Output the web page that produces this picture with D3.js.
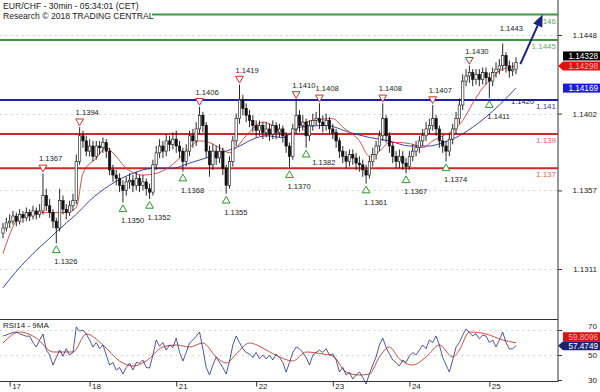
<!DOCTYPE html>
<html>
<head>
<meta charset="utf-8">
<script src="https://cdn.jsdelivr.net/npm/d3@7"></script>
<style>
  html, body { margin: 0; padding: 0; background: #fff; }
  svg { display: block; font-family: "Liberation Sans", Arial, sans-serif; }
  .lbl { font-size: 7.6px; fill: #222; }
  .axis text { font-size: 8px; fill: #222; }
  .axis line { stroke: #333; }
  .axis path { display: none; }
</style>
</head>
<body>
<svg id="chart" width="600" height="392"></svg>
<script>
// EUR/CHF 30min — candles, two MAs, support/resistance levels, RSI14 panel

const OPEN0 = 1.1332;
const closes = [1.1335,1.1338,1.1339,1.1342,1.1339,1.1343,1.1341,1.1344,1.1342,1.1345,
  1.1343,1.1345,1.1354,1.1348,1.1344,1.1339,1.1335,1.1351,1.1346,1.1344,
  1.1348,1.1351,1.1374,1.1389,1.1386,1.1380,1.1383,1.1377,1.1383,1.1382,
  1.1385,1.1380,1.1369,1.1366,1.1364,1.1360,1.1357,1.1362,1.1363,1.1360,
  1.1364,1.1360,1.1362,1.1358,1.1356,1.1372,1.1379,1.1383,1.1380,1.1386,
  1.1384,1.1387,1.1383,1.1380,1.1374,1.1380,1.1389,1.1386,1.1393,1.1401,
  1.1395,1.1380,1.1372,1.1380,1.1376,1.1380,1.1370,1.1360,1.1374,1.1386,
  1.1399,1.1410,1.1405,1.1401,1.1398,1.1395,1.1392,1.1395,1.1391,1.1393,
  1.1390,1.1395,1.1391,1.1393,1.1389,1.1383,1.1377,1.1393,1.1401,1.1395,
  1.1397,1.1389,1.1395,1.1398,1.1399,1.1397,1.1395,1.1398,1.1393,1.1391,
  1.1386,1.1380,1.1377,1.1374,1.1378,1.1376,1.1373,1.1372,1.1369,1.1366,
  1.1374,1.1378,1.1383,1.1389,1.1399,1.1389,1.1383,1.1377,1.1374,1.1377,
  1.1373,1.1371,1.1377,1.1380,1.1382,1.1386,1.1389,1.1393,1.1395,1.1399,
  1.1393,1.1386,1.1383,1.1380,1.1387,1.1393,1.1399,1.1407,1.1421,1.1424,
  1.1426,1.1422,1.1425,1.1422,1.1426,1.1423,1.1421,1.1426,1.1428,1.1430,
  1.1436,1.1430,1.1427,1.1428,1.1432];
const highs = [1.1338,1.1341,1.1343,1.1345,1.1344,1.1346,1.1345,1.1347,1.1346,1.1348,
  1.1347,1.1349,1.1367,1.1358,1.1352,1.1346,1.1341,1.1358,1.1354,1.1349,
  1.1351,1.1355,1.1378,1.1394,1.1392,1.1389,1.1387,1.1386,1.1386,1.1386,
  1.1388,1.1387,1.1382,1.1372,1.1369,1.1367,1.1363,1.1365,1.1367,1.1366,
  1.1368,1.1366,1.1366,1.1364,1.1361,1.1375,1.1383,1.1387,1.1386,1.1390,
  1.1389,1.1391,1.1392,1.1386,1.1382,1.1384,1.1392,1.1393,1.1397,1.1406,
  1.1403,1.1397,1.1383,1.1384,1.1383,1.1384,1.1382,1.1372,1.1377,1.1389,
  1.1402,1.1419,1.1413,1.1408,1.1404,1.1401,1.1398,1.1398,1.1397,1.1397,
  1.1396,1.1398,1.1397,1.1396,1.1395,1.1391,1.1385,1.1396,1.1410,1.1404,
  1.1401,1.1399,1.1398,1.1402,1.1403,1.1408,1.1401,1.1402,1.1400,1.1396,
  1.1393,1.1388,1.1383,1.1380,1.1381,1.1381,1.1379,1.1377,1.1375,1.1372,
  1.1377,1.1382,1.1386,1.1392,1.1408,1.1401,1.1391,1.1385,1.1380,1.1381,
  1.1380,1.1376,1.1380,1.1384,1.1386,1.1389,1.1393,1.1397,1.1399,1.1407,
  1.1401,1.1395,1.1389,1.1386,1.1390,1.1396,1.1403,1.1411,1.1425,1.1428,
  1.1430,1.1428,1.1428,1.1428,1.1429,1.1429,1.1426,1.1429,1.1432,1.1434,
  1.1443,1.1438,1.1433,1.1432,1.1435];
const lows = [1.1329,1.1333,1.1335,1.1337,1.1336,1.1337,1.1338,1.1339,1.1339,1.1340,
  1.1340,1.1341,1.1343,1.1345,1.1341,1.1335,1.1326,1.1333,1.1343,1.1340,
  1.1342,1.1345,1.1349,1.1372,1.1382,1.1377,1.1377,1.1374,1.1375,1.1378,
  1.1379,1.1376,1.1366,1.1362,1.1360,1.1356,1.1350,1.1354,1.1358,1.1356,
  1.1357,1.1356,1.1357,1.1354,1.1352,1.1354,1.1369,1.1376,1.1376,1.1377,
  1.1380,1.1381,1.1379,1.1376,1.1368,1.1371,1.1377,1.1382,1.1383,1.1390,
  1.1391,1.1376,1.1365,1.1369,1.1372,1.1373,1.1366,1.1355,1.1358,1.1371,
  1.1383,1.1396,1.1401,1.1397,1.1394,1.1391,1.1388,1.1389,1.1387,1.1388,
  1.1386,1.1387,1.1387,1.1388,1.1385,1.1379,1.1370,1.1375,1.1390,1.1391,
  1.1392,1.1382,1.1386,1.1392,1.1395,1.1393,1.1391,1.1392,1.1390,1.1387,
  1.1382,1.1376,1.1373,1.1370,1.1371,1.1372,1.1369,1.1368,1.1365,1.1361,
  1.1364,1.1371,1.1375,1.1380,1.1386,1.1385,1.1379,1.1373,1.1370,1.1370,
  1.1369,1.1367,1.1369,1.1374,1.1377,1.1379,1.1383,1.1386,1.1390,1.1392,
  1.1389,1.1382,1.1379,1.1374,1.1377,1.1384,1.1390,1.1396,1.1404,1.1418,
  1.1420,1.1418,1.1419,1.1418,1.1419,1.1419,1.1411,1.1418,1.1423,1.1425,
  1.1427,1.1426,1.1423,1.1424,1.1425];

// moving averages on price (read at bar index)
const maFastIdx = [0,5,12,19,22,24,28,31,33,37,42,46,52,55,59,62,65,68,70,73,78,81,84,87,89,93,99,102,107,110,113,116,119,123,126,129,132,135,138,141,144,147,149,154];
const maFast = [1.1320,1.1341,1.1344,1.1344,1.1347,1.1367,1.1376,1.1382,1.1379,1.1370,1.1366,1.1367,1.1374,1.1380,1.1386,1.1385,1.1382,1.1379,1.1382,1.1389,1.1397,1.1395,1.1391,1.1390,1.1395,1.1398,1.1399,1.1394,1.1386,1.1377,1.1380,1.1385,1.1385,1.1384,1.1382,1.1386,1.1389,1.1392,1.1398,1.1408,1.1417,1.1423,1.1427,1.14298];
const maSlowIdx = [0,2,9,14,19,22,26,32,39,45,51,56,61,67,71,75,79,84,89,97,104,110,116,122,128,132,137,141,145,149,154];
const maSlow = [1.1300,1.1305,1.1320,1.1329,1.1338,1.1343,1.1351,1.1360,1.1367,1.1370,1.1370,1.1373,1.1376,1.1380,1.1383,1.1387,1.1389,1.1388,1.1394,1.1395,1.1391,1.1388,1.1386,1.1383,1.1383,1.1385,1.1389,1.1394,1.1400,1.1407,1.14169];

// horizontal levels
const levels      = [1.1460, 1.1445, 1.1410, 1.1390, 1.1370];
const levelText   = ["1.146", "1.1445", "1.141", "1.139", "1.137"];
const levelColor  = ["#3a9a3a", "#3a9a3a", "#2020a8", "#cc2a2a", "#cc2a2a"];
const levelLabelC = ["#5aaa5a", "#6aaa6a", "#3a3ab0", "#e06060", "#e06060"];

// swing highs / lows
const peakIdx = [12, 23, 59, 71, 88, 95, 114, 129, 140];
const peakVal = [1.1367, 1.1394, 1.1406, 1.1419, 1.1410, 1.1408, 1.1408, 1.1407, 1.1430];
const troughIdx = [16, 36, 44, 54, 67, 86, 91, 109, 121, 133, 146];
const troughVal = [1.1326, 1.1350, 1.1352, 1.1368, 1.1355, 1.1370, 1.1382, 1.1361, 1.1367, 1.1374, 1.1411];

// RSI14, one value per bar, and its 9MA
const rsi = [65.2,66,67,68,68.4,67,66,65,65.2,60,
  56.4,62,66.8,54,50,42,48,54,49,55,
  50,52,72.4,69,70,66.8,62,56.4,60,55,
  58,50,42,44,38,40,34.8,40,43.6,38,
  44,43.6,46,40,39.6,50,62,57,60,54,
  58,56,63.6,52,45.2,52,59.6,62,65,68.4,
  55,40,34,42,48.4,44,40,34.8,45,58,
  65.2,60,55,52,50.8,48,52,47,50,46.8,
  50,46,50.8,48,44,36.4,44,52,56.4,55,
  52,48,42,50,52,54,52,55,50,50.8,
  46,36.4,40,34,36,30.8,34,36.4,32,26.8,
  35,42,48.4,58,63.6,56,50.8,46,44,41.2,
  46,44,49.2,52,50,54,58,55,62,60,
  65.2,58,48,42,36.4,46,56.4,60,66,70.8,
  68,65.2,67,63,66,65.2,60,62,56.4,62,
  68.4,60,54.8,55,57.47];
const rsiMaIdx = [0,5,10,15,21,25,30,35,39,43,48,52,56,60,64,67,70,74,79,83,87,91,96,99,103,107,110,113,116,119,123,127,131,135,137,140,145,150,154];
const rsiMa = [59.6,68.4,63.6,52.4,52.4,66.8,58,45.2,41.2,45.2,56.4,58,56.4,59.6,48.4,43.6,50.8,59.6,54,48.4,45.2,52.4,50.8,49.2,36.4,34,34.8,48.4,56.4,46.8,42,48.4,58,48.4,54,68.4,66.8,62,59.81];

const dayIdx = [2, 26, 52, 76, 99, 122, 146];
const dayLabel = ["17", "18", "21", "22", "23", "24", "25"];
const priceTicks = [1.1311, 1.1357, 1.1402, 1.1448];
const rsiTicks = [30, 50, 70];

// last-value tags
const tags = [
  { v: 1.14328, text: "1.14328", fill: "#000", color: "#fff", pointer: false, dy: -5 },
  { v: 1.14298, text: "1.14298", fill: "#e01010", color: "#ffb0b0", pointer: true, dy: 0 },
  { v: 1.14169, text: "1.14169", fill: "#1a1ae0", color: "#fff", pointer: false, dy: 0 }
];
const rsiTags = [
  { v: 59.8096, text: "59.8096", fill: "#e01010", color: "#ffb0b0", pointer: false, dy: -6 },
  { v: 57.4749, text: "57.4749", fill: "#1c2470", color: "#fff", pointer: true, dy: 0 }
];

const svg = d3.select("#chart");
const RIGHT = 558;

const x = d3.scaleLinear().domain([0, 154]).range([3, 516]);
const y = d3.scaleLinear().domain([1.1311, 1.1448]).range([269, 35]);
const yR = d3.scaleLinear().domain([30, 70]).range([380, 330]);

// ── frame ──
svg.append("line").attr("x1", RIGHT).attr("x2", RIGHT).attr("y1", 0).attr("y2", 382)
  .attr("stroke", "#333").attr("stroke-width", 1);
svg.append("line").attr("x1", 0).attr("x2", RIGHT).attr("y1", 319.5).attr("y2", 319.5)
  .attr("stroke", "#333").attr("stroke-width", 1.2);
svg.append("line").attr("x1", 0).attr("x2", RIGHT).attr("y1", 381.5).attr("y2", 381.5)
  .attr("stroke", "#333").attr("stroke-width", 1);

// dotted grid
svg.append("g").selectAll("line").data(priceTicks).join("line")
  .attr("x1", 0).attr("x2", RIGHT)
  .attr("y1", d => Math.round(y(d)) + 0.5).attr("y2", d => Math.round(y(d)) + 0.5)
  .attr("stroke", "#c8c8c8").attr("stroke-dasharray", "1.5,4");
svg.append("g").selectAll("line").data([50, 70]).join("line")
  .attr("x1", 0).attr("x2", RIGHT)
  .attr("y1", d => Math.round(yR(d)) + 0.5).attr("y2", d => Math.round(yR(d)) + 0.5)
  .attr("stroke", "#c8c8c8").attr("stroke-dasharray", "1.5,4");

// title
svg.append("text").attr("x", 3).attr("y", 9).attr("font-size", 8.6).attr("fill", "#222")
  .text("EUR/CHF - 30min - 05:34:01 (CET)");
svg.append("text").attr("x", 3).attr("y", 19).attr("font-size", 8.6).attr("fill", "#222")
  .text("Research © 2018 TRADING CENTRAL");

// ── levels ──
levels.forEach((lv, i) => {
  const yy = y(lv);
  svg.append("line").attr("x1", i === 0 ? 152 : 0).attr("x2", RIGHT)
    .attr("y1", yy).attr("y2", yy)
    .attr("stroke", levelColor[i]).attr("stroke-width", 2);
  svg.append("text").attr("x", RIGHT - 2).attr("y", yy + 9)
    .attr("text-anchor", "end").attr("font-size", 8).attr("fill", levelLabelC[i])
    .text(levelText[i]);
});

// ── moving averages ──
const line = d3.line().x(d => x(d[0])).y(d => y(d[1])).curve(d3.curveMonotoneX);
svg.append("path").datum(d3.zip(maSlowIdx, maSlow)).attr("d", line)
  .attr("fill", "none").attr("stroke", "#2d2d9a").attr("stroke-width", 0.9);
svg.append("path").datum(d3.zip(maFastIdx, maFast)).attr("d", line)
  .attr("fill", "none").attr("stroke", "#d03a3a").attr("stroke-width", 0.9);

// ── candles ──
const bars = closes.map((c, i) => ({
  i, o: i === 0 ? OPEN0 : closes[i - 1], c, h: highs[i], l: lows[i]
}));
const cg = svg.append("g");
cg.selectAll("line").data(bars).join("line")
  .attr("x1", d => x(d.i)).attr("x2", d => x(d.i))
  .attr("y1", d => y(d.h)).attr("y2", d => y(d.l))
  .attr("stroke", "#111").attr("stroke-width", 0.9);
cg.selectAll("rect").data(bars).join("rect")
  .attr("x", d => x(d.i) - 1.2).attr("width", 2.4)
  .attr("y", d => y(Math.max(d.o, d.c)))
  .attr("height", d => Math.max(1, Math.abs(y(d.o) - y(d.c))))
  .attr("fill", d => d.c >= d.o ? "#fff" : "#111")
  .attr("stroke", "#111").attr("stroke-width", 0.6);

// ── swing markers ──
const tri = d3.symbol().type(d3.symbolTriangle).size(26);
svg.append("g").selectAll("path").data(d3.zip(peakIdx, peakVal)).join("path")
  .attr("d", tri)
  .attr("transform", d => `translate(${x(d[0])},${y(d[1]) - 6}) rotate(180)`)
  .attr("fill", "#fff").attr("stroke", "#d03030").attr("stroke-width", 1);
svg.append("g").selectAll("text").data(d3.zip(peakIdx, peakVal)).join("text")
  .attr("class", "lbl").attr("x", d => x(d[0]) - 4).attr("y", d => y(d[1]) - 12)
  .text(d => d[1].toFixed(4));
svg.append("g").selectAll("path").data(d3.zip(troughIdx, troughVal)).join("path")
  .attr("d", tri)
  .attr("transform", d => `translate(${x(d[0])},${y(d[1]) + 7})`)
  .attr("fill", "#fff").attr("stroke", "#2a9a2a").attr("stroke-width", 1);
svg.append("g").selectAll("text").data(d3.zip(troughIdx, troughVal)).join("text")
  .attr("class", "lbl")
  .attr("x", d => x(d[0]) - 2 + (d[1] === 1.1382 ? 8 : 0))
  .attr("y", d => y(d[1]) + (d[1] === 1.1382 ? 17 : 21))
  .text(d => d[1].toFixed(4));

// top of the range and the blue-line note
svg.append("text").attr("class", "lbl").attr("x", x(150) - 3).attr("y", y(1.1443) - 13)
  .text("1.1443");
svg.append("text").attr("class", "lbl").attr("x", x(154) - 5).attr("y", y(1.1410) + 4)
  .text("1.1420");

// projection arrow
const a0 = [x(155.3), y(1.1431)], a1 = [x(162), y(1.1460)];
const ang = Math.atan2(a1[1] - a0[1], a1[0] - a0[0]);
const back = 12, half = 5;
const bx = a1[0] - back * Math.cos(ang), by = a1[1] - back * Math.sin(ang);
svg.append("line").attr("x1", a0[0]).attr("y1", a0[1]).attr("x2", bx).attr("y2", by)
  .attr("stroke", "#1a237e").attr("stroke-width", 2);
svg.append("path")
  .attr("d", `M${a1[0]},${a1[1]}L${bx - half * Math.sin(ang)},${by + half * Math.cos(ang)}L${bx + half * Math.sin(ang)},${by - half * Math.cos(ang)}Z`)
  .attr("fill", "#1a237e");

// ── right axes ──
const ax = svg.append("g").attr("class", "axis").attr("transform", `translate(${RIGHT},0)`)
  .call(d3.axisRight(y).tickValues(priceTicks).tickFormat(d3.format(".4f")).tickSize(4).tickPadding(10));
ax.selectAll("text").attr("text-anchor", "end").attr("x", 39);
const axR = svg.append("g").attr("class", "axis").attr("transform", `translate(${RIGHT},0)`)
  .call(d3.axisRight(yR).tickValues(rsiTicks).tickSize(4));
axR.selectAll("text").attr("text-anchor", "end").attr("x", 39)
  .attr("dy", d => d === 70 ? "-0.2em" : "0.32em");

// ── RSI panel ──
svg.append("text").attr("x", 3).attr("y", 328).attr("font-size", 8).attr("fill", "#222")
  .text("RSI14 - 9MA");
svg.append("path").datum(d3.zip(rsiMaIdx, rsiMa))
  .attr("d", d3.line().x(d => x(d[0])).y(d => yR(d[1])).curve(d3.curveMonotoneX))
  .attr("fill", "none").attr("stroke", "#c8503c").attr("stroke-width", 1);
svg.append("path").datum(rsi)
  .attr("d", d3.line().x((d, i) => x(i)).y(d => yR(d)))
  .attr("fill", "none").attr("stroke", "#2a2a80").attr("stroke-width", 0.8);

// ── bottom day axis ──
const axB = svg.append("g").attr("class", "axis").attr("transform", "translate(0,381.5)")
  .call(d3.axisBottom(x).tickValues(dayIdx).tickFormat((d, i) => dayLabel[i]).tickSize(5));
axB.selectAll("text").attr("text-anchor", "start").attr("dx", 2).attr("dy", -1);

// ── value tags ──
function drawTag(t, scale) {
  const yy = scale(t.v) + t.dy, h = 9;
  const g = svg.append("g");
  if (t.pointer) {
    g.append("path")
      .attr("d", `M${RIGHT},${yy}L${RIGHT + 5},${yy - h / 2}L600,${yy - h / 2}L600,${yy + h / 2}L${RIGHT + 5},${yy + h / 2}Z`)
      .attr("fill", t.fill);
  } else {
    g.append("rect").attr("x", RIGHT + 5).attr("y", yy - h / 2).attr("width", 600 - RIGHT - 5).attr("height", h)
      .attr("fill", t.fill);
  }
  g.append("text").attr("x", 598).attr("y", yy + 3.2).attr("text-anchor", "end")
    .attr("font-size", 8.2).attr("fill", t.color).text(t.text);
}
tags.forEach(t => drawTag(t, y));
rsiTags.forEach(t => drawTag(t, yR));
</script>
</body>
</html>
